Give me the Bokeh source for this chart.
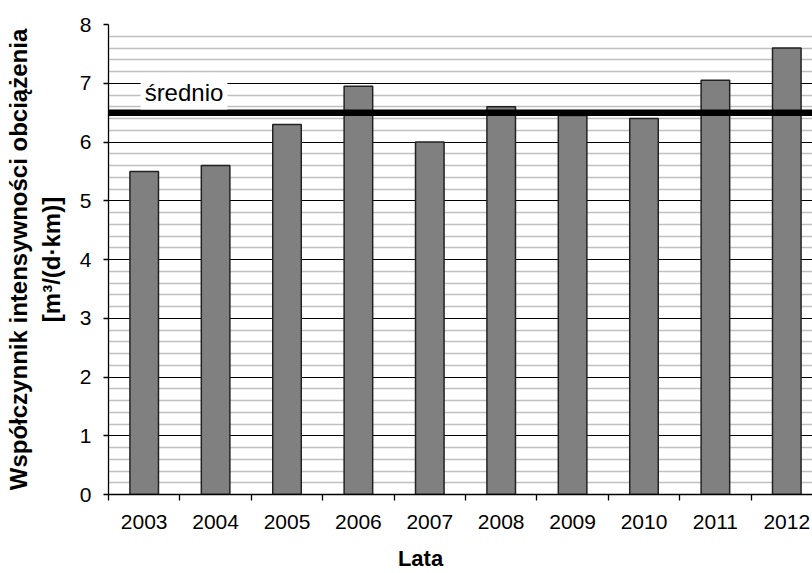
from bokeh.plotting import figure
from bokeh.models import Range1d, FixedTicker, Label, ColumnDataSource, LinearAxis
from bokeh.embed import file_html
from bokeh.resources import INLINE

years = ["2003", "2004", "2005", "2006", "2007", "2008", "2009", "2010", "2011", "2012"]
values = [5.5, 5.6, 6.3, 6.95, 6.0, 6.6, 6.45, 6.4, 7.05, 7.6]
average = 6.5
avg_label = "średnio"
y_ticks = [0, 1, 2, 3, 4, 5, 6, 7, 8]
y_title = "Współczynnik intensywności obciążenia\n[m³/(d·km)]"
x_title = "Lata"

FONT = "Liberation Sans"

centers = [i + 0.5 for i in range(len(years))]
bounds = [float(i) for i in range(len(years) + 1)]
minor_y = [round(k * 0.2, 1) for k in range(0, 41) if k % 5 != 0]

src = ColumnDataSource(dict(x=centers, top=values, year=years))

p = figure(width=812, height=573, output_backend="svg", toolbar_location=None,
           x_range=Range1d(0, 9.86), y_range=Range1d(0, 8),
           min_border_left=108, min_border_top=24, min_border_bottom=78, min_border_right=0)
p.outline_line_color = None
p.background_fill_color = "white"
p.border_fill_color = "white"

# grids
p.xgrid.visible = False
p.yaxis.ticker = FixedTicker(ticks=y_ticks, minor_ticks=minor_y)
p.ygrid.grid_line_color = "#000000"
p.ygrid.grid_line_width = 1.2
p.ygrid.minor_grid_line_color = "#c0c0c0"
p.ygrid.minor_grid_line_width = 1.6

# bars
p.vbar(x="x", top="top", width=0.4, source=src, fill_color="#808080",
       line_color="#222222", line_width=1.5)

# average line
p.line(x=[0, 10], y=[average, average], line_color="black", line_width=6.5, line_cap="round")

lab = Label(x=0.45, y=6.85, text=avg_label, text_baseline="middle", text_align="left",
            text_font=FONT, text_font_size="24px", text_color="black",
            background_fill_color="white", padding=4)
p.add_layout(lab)

# x axis
p.xaxis.ticker = FixedTicker(ticks=centers, minor_ticks=bounds)
p.xaxis.major_label_overrides = {c: y for c, y in zip(centers, years)}
p.xaxis.major_tick_out = 0
p.xaxis.major_tick_in = 0
p.xaxis.minor_tick_out = 6
p.xaxis.minor_tick_in = 0
p.xaxis.major_label_standoff = 14
p.xaxis.major_label_text_font = FONT
p.xaxis.major_label_text_font_size = "21px"
p.xaxis.major_label_text_color = "black"
p.xaxis.axis_line_color = "black"
p.xaxis.axis_line_width = 1.3
p.xaxis.minor_tick_line_color = "black"
p.xaxis.minor_tick_line_width = 1.3

# x title: placed as a bare axis row so it sits left of centre like the reference
title_pos = 4.37
xt_axis = LinearAxis(ticker=FixedTicker(ticks=[title_pos]),
                     major_label_overrides={title_pos: x_title},
                     axis_line_color=None, major_tick_line_color=None,
                     minor_tick_line_color=None,
                     major_tick_out=0, major_tick_in=0, minor_tick_out=0, minor_tick_in=0,
                     major_label_standoff=14,
                     major_label_text_font=FONT, major_label_text_font_size="22px",
                     major_label_text_font_style="bold", major_label_text_color="black")
p.add_layout(xt_axis, "below")

# y axis
p.yaxis.major_tick_out = 5
p.yaxis.major_tick_in = 0
p.yaxis.minor_tick_out = 0
p.yaxis.minor_tick_in = 0
p.yaxis.major_label_standoff = 12
p.yaxis.major_label_text_font = FONT
p.yaxis.major_label_text_font_size = "21px"
p.yaxis.major_label_text_color = "black"
p.yaxis.axis_line_color = "black"
p.yaxis.axis_line_width = 1.3
p.yaxis.major_tick_line_color = "black"
p.yaxis.major_tick_line_width = 1.3
p.yaxis.axis_label = y_title
p.yaxis.axis_label_text_font = FONT
p.yaxis.axis_label_text_font_size = "24px"
p.yaxis.axis_label_text_font_style = "bold"
p.yaxis.axis_label_text_color = "black"
p.yaxis.axis_label_standoff = 12

open("out.html", "w").write(file_html(p, INLINE))
